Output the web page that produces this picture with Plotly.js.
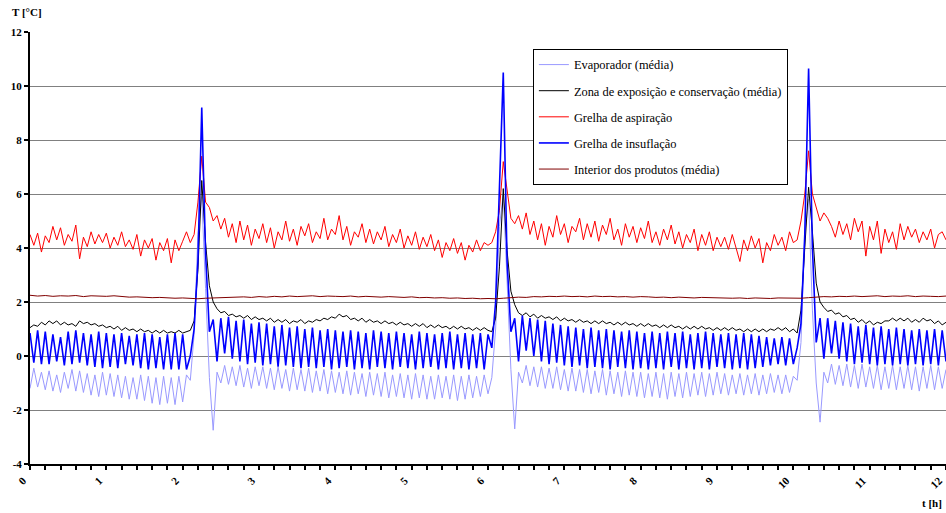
<!DOCTYPE html>
<html>
<head>
<meta charset="utf-8">
<script src="https://cdn.plot.ly/plotly-3.0.1.min.js"></script>
<style>html,body{margin:0;padding:0;background:#fff;}#chart{width:946px;height:513px;}</style>
</head>
<body>
<div id="chart"></div>
<script>
// Sampling: first sample at t = 0 h, one sample every 0.05 h (3 min)
const T_START = 0;
const T_STEP = 0.05;
const T_STEP_PRODUCTS = 0.1;

const seriesNames = [
  "Evaporador (média)",
  "Zona de exposição e conservação (média)",
  "Grelha de aspiração",
  "Grelha de insuflação",
  "Interior dos produtos (média)"
];

const evaporador = [
  -1.2,-0.45,-1.15,-0.6,-1.25,-0.55,-1.3,-0.7,-1.35,-0.6,
  -1.2,-0.5,-1.3,-0.55,-1.35,-0.65,-1.45,-0.7,-1.5,-0.6,
  -1.45,-0.65,-1.5,-0.7,-1.55,-0.75,-1.6,-0.8,-1.6,-0.7,
  -1.65,-0.75,-1.75,-0.8,-1.8,-0.75,-1.75,-0.8,-1.8,-0.75,
  -1.7,-0.7,-0.9,0.8,4.5,5.9,2.5,-0.8,-2.75,-0.6,
  -1.0,-0.35,-1.05,-0.4,-1.1,-0.35,-1.15,-0.45,-1.2,-0.4,
  -1.1,-0.4,-1.2,-0.45,-1.25,-0.4,-1.2,-0.5,-1.3,-0.45,
  -1.25,-0.5,-1.3,-0.45,-1.35,-0.55,-1.3,-0.5,-1.4,-0.55,
  -1.35,-0.6,-1.4,-0.55,-1.45,-0.6,-1.4,-0.65,-1.5,-0.6,
  -1.45,-0.65,-1.5,-0.6,-1.55,-0.7,-1.5,-0.65,-1.55,-0.7,
  -1.6,-0.65,-1.55,-0.7,-1.6,-0.75,-1.6,-0.7,-1.55,-0.75,
  -1.6,-0.7,-1.65,-0.75,-1.6,-0.7,-1.55,-0.75,-1.5,-0.7,
  -1.4,-0.8,1.0,4.8,6.0,2.5,-0.5,-2.7,-0.6,-1.0,
  -0.35,-1.1,-0.4,-1.15,-0.4,-1.2,-0.45,-1.2,-0.4,-1.25,
  -0.5,-1.3,-0.45,-1.3,-0.5,-1.35,-0.5,-1.4,-0.55,-1.35,
  -0.5,-1.45,-0.55,-1.4,-0.6,-1.5,-0.55,-1.45,-0.6,-1.5,
  -0.6,-1.55,-0.65,-1.5,-0.6,-1.55,-0.65,-1.6,-0.6,-1.5,
  -0.65,-1.55,-0.6,-1.5,-0.65,-1.45,-0.6,-1.5,-0.65,-1.45,
  -0.6,-1.4,-0.65,-1.45,-0.7,-1.4,-0.65,-1.45,-0.7,-1.4,
  -0.65,-1.45,-0.7,-1.4,-0.65,-1.35,-0.7,-1.4,-0.7,-1.35,
  -0.75,-0.9,0.5,4.5,5.8,1.7,-1.0,-2.45,-0.6,-1.0,
  -0.3,-1.05,-0.35,-1.1,-0.3,-1.15,-0.35,-1.2,-0.3,-1.15,
  -0.4,-1.2,-0.35,-1.25,-0.4,-1.2,-0.35,-1.25,-0.4,-1.2,
  -0.35,-1.25,-0.4,-1.3,-0.4,-1.2,-0.35,-1.25,-0.4,-1.2,
  -0.5
];

const zonaExposicao = [
  1.05,1.15,1.1,1.25,1.15,1.3,1.2,1.3,1.15,1.25,
  1.15,1.2,1.1,1.3,1.2,1.25,1.15,1.2,1.1,1.15,
  1.05,1.1,1.0,1.1,0.95,1.05,0.95,1.0,0.9,1.0,
  0.9,0.95,0.85,0.95,0.85,0.95,0.85,0.9,0.85,0.95,
  0.85,0.9,0.95,1.3,3.2,6.5,4.2,2.6,2.0,1.75,
  1.6,1.65,1.5,1.55,1.45,1.5,1.4,1.5,1.35,1.45,
  1.35,1.4,1.3,1.4,1.25,1.35,1.25,1.35,1.2,1.3,
  1.25,1.35,1.2,1.3,1.25,1.35,1.3,1.4,1.35,1.45,
  1.4,1.55,1.45,1.5,1.35,1.4,1.3,1.4,1.25,1.35,
  1.25,1.3,1.2,1.3,1.2,1.25,1.15,1.25,1.15,1.2,
  1.1,1.2,1.1,1.2,1.05,1.15,1.05,1.15,1.05,1.1,
  1.0,1.1,1.0,1.1,1.0,1.05,0.95,1.05,0.95,1.05,
  0.95,0.9,1.4,3.3,6.2,3.9,2.4,1.9,1.6,1.5,
  1.6,1.45,1.55,1.4,1.5,1.4,1.45,1.35,1.45,1.3,
  1.4,1.3,1.35,1.25,1.35,1.25,1.3,1.2,1.3,1.2,
  1.3,1.2,1.25,1.15,1.25,1.15,1.25,1.15,1.2,1.1,
  1.2,1.1,1.2,1.1,1.15,1.05,1.15,1.05,1.15,1.05,
  1.1,1.0,1.1,1.0,1.1,1.0,1.1,1.0,1.05,0.95,
  1.05,0.95,1.05,0.95,1.05,0.95,1.0,0.9,1.0,0.9,
  1.0,0.9,1.0,0.9,1.0,0.95,1.05,0.95,1.05,0.9,
  1.0,0.85,1.7,4.0,6.25,4.6,2.7,2.0,1.8,1.65,
  1.7,1.55,1.6,1.45,1.5,1.35,1.4,1.25,1.35,1.2,
  1.3,1.15,1.25,1.2,1.3,1.3,1.4,1.3,1.4,1.3,
  1.4,1.25,1.35,1.25,1.4,1.3,1.35,1.2,1.3,1.15,
  1.25
];

const grelhaAspiracao = [
  4.5,4.1,4.55,3.85,4.45,4.2,4.8,4.3,4.75,4.1,
  4.5,4.25,4.85,3.6,4.4,4.05,4.6,4.15,4.5,4.2,
  4.55,4.0,4.4,4.1,4.6,4.05,4.3,3.95,4.5,3.7,
  4.3,4.0,4.35,3.55,4.2,3.9,4.35,3.45,4.3,3.9,
  4.25,4.6,4.2,4.5,5.7,7.4,5.7,5.5,5.0,5.2,
  4.7,5.1,4.4,4.9,4.2,5.0,4.3,4.85,4.1,4.7,
  4.35,4.9,4.2,4.75,4.0,4.6,4.3,5.0,4.25,4.7,
  4.1,4.8,4.45,4.9,4.2,4.6,4.35,5.1,4.3,4.7,
  4.5,5.2,4.3,4.8,4.1,4.6,4.4,4.9,4.2,4.7,
  4.15,4.6,4.3,4.8,4.05,4.5,4.2,4.7,4.0,4.45,
  4.1,4.6,3.95,4.4,4.05,4.5,3.9,4.3,3.65,4.2,
  3.9,4.35,3.8,4.2,3.55,4.1,3.85,4.3,3.9,4.2,
  4.1,4.2,4.6,5.4,7.2,6.1,5.1,4.9,5.2,4.7,
  5.3,4.5,5.0,4.3,4.9,4.1,4.8,4.4,5.2,4.5,
  4.9,4.2,4.8,4.6,5.1,4.3,4.9,4.4,5.0,4.25,
  4.85,4.5,5.1,4.3,4.7,4.1,4.9,4.4,4.8,4.2,
  4.75,4.35,5.0,4.2,4.6,4.1,4.7,4.3,4.85,4.15,
  4.6,4.0,4.5,4.2,4.7,3.9,4.5,4.1,4.6,3.9,
  4.4,4.05,4.4,3.95,4.5,4.0,3.5,4.3,3.9,4.45,
  4.0,4.35,3.45,4.2,3.9,4.5,4.1,4.4,3.9,4.6,
  4.2,4.3,5.0,6.0,7.6,6.0,5.5,5.0,5.3,5.1,
  4.8,4.4,5.0,4.5,4.9,4.3,5.1,4.6,5.0,3.7,
  4.8,4.3,5.0,3.8,4.7,4.2,4.6,3.95,4.9,4.3,
  4.8,4.4,4.7,4.2,4.6,4.3,4.7,4.0,4.5,4.6,
  4.3
];

const grelhaInsuflacao = [
  0.85,-0.25,0.95,-0.3,0.9,-0.3,0.8,-0.2,0.7,-0.35,
  0.9,-0.3,0.95,-0.25,0.85,-0.35,0.8,-0.4,0.9,-0.45,
  0.85,-0.4,0.8,-0.45,0.85,-0.3,0.75,-0.35,0.8,-0.45,
  0.85,-0.5,0.8,-0.45,0.7,-0.5,0.8,-0.5,0.85,-0.5,
  0.8,-0.5,0.0,1.0,3.5,9.2,3.8,0.9,1.35,-0.2,
  1.4,0.1,1.45,-0.1,1.3,-0.2,1.35,-0.3,1.2,-0.25,
  1.25,-0.35,1.2,-0.3,1.1,-0.4,1.15,-0.35,1.05,-0.4,
  1.1,-0.45,1.0,-0.4,1.05,-0.45,0.95,-0.4,1.0,-0.5,
  0.95,-0.45,0.9,-0.4,0.95,-0.5,0.9,-0.45,0.85,-0.5,
  0.95,-0.4,0.9,-0.45,0.85,-0.5,0.9,-0.4,0.85,-0.45,
  0.8,-0.5,0.9,-0.45,0.85,-0.4,0.8,-0.5,0.85,-0.45,
  0.9,-0.5,0.8,-0.45,0.85,-0.5,0.8,-0.45,0.85,-0.5,
  0.8,0.3,2.0,6.0,10.5,3.5,0.9,1.4,-0.2,1.5,
  0.2,1.4,0.0,1.35,-0.2,1.3,-0.3,1.2,-0.25,1.15,
  -0.35,1.1,-0.4,1.05,-0.35,1.0,-0.45,1.05,-0.4,0.95,
  -0.45,1.0,-0.5,0.95,-0.4,0.9,-0.45,0.95,-0.5,0.9,
  -0.45,0.85,-0.5,0.9,-0.45,0.85,-0.5,0.9,-0.4,0.85,
  -0.5,0.9,-0.45,0.8,-0.5,0.85,-0.45,0.9,-0.5,0.85,
  -0.4,0.8,-0.45,0.85,-0.5,0.8,-0.45,0.85,-0.5,0.8,
  -0.45,0.75,-0.4,0.7,-0.35,0.65,-0.3,0.7,-0.35,0.65,
  -0.3,0.3,1.2,4.5,10.65,4.0,0.5,1.4,-0.1,1.4,
  0.1,1.3,-0.1,1.25,-0.2,1.2,-0.3,1.1,-0.25,1.15,
  -0.3,1.05,-0.35,1.1,-0.3,1.0,-0.35,1.05,-0.3,1.0,
  -0.35,0.95,-0.3,1.0,-0.35,0.95,-0.3,1.0,-0.35,0.95,
  -0.2
];

// sampled every 0.1 h
const interiorProdutos = [
  2.25,2.22,2.24,2.21,2.23,2.22,2.24,2.2,2.23,2.22,
  2.21,2.23,2.2,2.18,2.19,2.17,2.16,2.17,2.15,2.14,
  2.15,2.13,2.12,2.14,2.15,2.17,2.16,2.18,2.19,2.17,
  2.2,2.18,2.21,2.19,2.22,2.2,2.21,2.23,2.2,2.22,
  2.21,2.2,2.22,2.19,2.21,2.2,2.18,2.2,2.19,2.17,
  2.19,2.16,2.17,2.15,2.16,2.14,2.15,2.13,2.14,2.12,
  2.13,2.12,2.14,2.16,2.18,2.17,2.2,2.19,2.21,2.2,
  2.22,2.2,2.21,2.19,2.22,2.2,2.21,2.19,2.2,2.18,
  2.2,2.19,2.17,2.18,2.16,2.18,2.17,2.15,2.17,2.16,
  2.15,2.16,2.14,2.15,2.13,2.15,2.14,2.13,2.15,2.14,
  2.13,2.14,2.16,2.18,2.2,2.19,2.21,2.2,2.22,2.2,
  2.21,2.23,2.2,2.22,2.21,2.23,2.2,2.22,2.21,2.2,
  2.22
];

const xTickVals = [0,1,2,3,4,5,6,7,8,9,10,11,12];
const xTickText = ["0","1","2","3","4","5","6","7","8","9","10","11","12"];
const yTickVals = [-4,-2,0,2,4,6,8,10,12];
const yTickText = ["-4","-2","0","2","4","6","8","10","12"];

const FONT = "'Liberation Serif', 'Times New Roman', Times, serif";

const colors = ["#9999ff", "#000000", "#ff0000", "#0000ff", "#800000"];
const widths = [1, 1, 1, 1.6, 1];
const seriesData = [evaporador, zonaExposicao, grelhaAspiracao, grelhaInsuflacao, interiorProdutos];
const steps = [T_STEP, T_STEP, T_STEP, T_STEP, T_STEP_PRODUCTS];

const traces = seriesData.map((ys, k) => ({
  type: "scatter",
  mode: "lines",
  name: seriesNames[k],
  legendgroup: "g" + k,
  x0: T_START,
  dx: steps[k],
  y: ys,
  line: {color: colors[k], width: widths[k]},
  hoverinfo: "skip"
}));

const layout = {
  width: 946,
  height: 513,
  margin: {l: 30, r: 0, t: 32, b: 49},
  paper_bgcolor: "#ffffff",
  plot_bgcolor: "#ffffff",
  font: {family: FONT, color: "#000000", size: 11},
  showlegend: true,
  legend: {
    x: 0.549, y: 0.9606, xanchor: "left", yanchor: "top",
    bgcolor: "#ffffff", bordercolor: "#000000", borderwidth: 1,
    font: {family: FONT, size: 12.4, color: "#000000"},
    tracegroupgap: 7,
    traceorder: "grouped"
  },
  xaxis: {
    range: [0, 12],
    tickmode: "array", tickvals: xTickVals, ticktext: xTickText,
    tickangle: -45,
    ticklabelshift: -7,
    ticklabeloverflow: "allow",
    tickfont: {family: FONT, size: 11, weight: "bold", color: "#000000"},
    ticks: "outside", ticklen: 4, tickwidth: 2, tickcolor: "#000000",
    minor: {dtick: 0.2, tick0: 0, ticks: "outside", ticklen: 4, tickwidth: 2, tickcolor: "#000000", showgrid: false},
    showline: true, linewidth: 2, linecolor: "#000000",
    showgrid: false, zeroline: false, fixedrange: true
  },
  yaxis: {
    range: [-4, 12],
    tickmode: "array", tickvals: yTickVals, ticktext: yTickText,
    tickfont: {family: FONT, size: 11, weight: "bold", color: "#000000"},
    ticks: "outside", ticklen: 4, tickwidth: 2, tickcolor: "#000000",
    showline: true, linewidth: 2, linecolor: "#000000",
    showgrid: true, gridcolor: "#808080", gridwidth: 1,
    zeroline: false, fixedrange: true
  },
  annotations: [
    {text: "T [°C]", xref: "paper", yref: "paper", x: -0.0218, y: 1.046,
     xanchor: "left", yanchor: "middle", showarrow: false,
     font: {family: FONT, size: 11, weight: "bold", color: "#000000"}},
    {text: "t [h]", xref: "paper", yref: "paper", x: 0.998, y: -0.09,
     xanchor: "right", yanchor: "middle", showarrow: false,
     font: {family: FONT, size: 11, weight: "bold", color: "#000000"}}
  ]
};

Plotly.newPlot("chart", traces, layout, {displayModeBar: false, staticPlot: true});
</script>
</body>
</html>
